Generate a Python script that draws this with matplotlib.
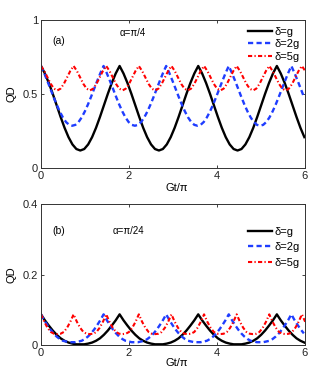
import matplotlib
matplotlib.use("Agg")
import matplotlib.pyplot as plt
import numpy as np

plt.rcParams["font.family"] = ["Liberation Sans", "DejaVu Sans"]

x_ticks = [0, 2, 4, 6]
labels = ["δ=g", "δ=2g", "δ=5g"]

# spacing (in Gt/pi) of the points
dx_g = 0.0895
dx_2g = 0.07125
dx_5g = 0.07425

# panel (a), alpha = pi/4
qd_a_g = [
    0.690, 0.639, 0.575, 0.502, 0.424, 0.346, 0.273, 0.210, 0.161, 0.130,
    0.120, 0.130, 0.161, 0.210, 0.273, 0.346, 0.424, 0.502, 0.575, 0.639,
    0.690, 0.639, 0.575, 0.502, 0.424, 0.346, 0.273, 0.210, 0.161, 0.130,
    0.120, 0.130, 0.161, 0.210, 0.273, 0.346, 0.424, 0.502, 0.575, 0.639,
    0.690, 0.639, 0.575, 0.502, 0.424, 0.346, 0.273, 0.210, 0.161, 0.130,
    0.120, 0.130, 0.161, 0.210, 0.273, 0.346, 0.424, 0.502, 0.575, 0.639,
    0.690, 0.639, 0.575, 0.502, 0.424, 0.346, 0.273, 0.210,
]
qd_a_2g = [
    0.690, 0.643, 0.591, 0.537, 0.482, 0.430, 0.383, 0.343, 0.312, 0.293,
    0.287, 0.293, 0.312, 0.343, 0.383, 0.430, 0.482, 0.537, 0.591, 0.643,
    0.690, 0.643, 0.591, 0.537, 0.482, 0.430, 0.383, 0.343, 0.312, 0.293,
    0.287, 0.293, 0.312, 0.343, 0.383, 0.430, 0.482, 0.537, 0.591, 0.643,
    0.690, 0.643, 0.591, 0.537, 0.482, 0.430, 0.383, 0.343, 0.312, 0.293,
    0.287, 0.293, 0.312, 0.343, 0.383, 0.430, 0.482, 0.537, 0.591, 0.643,
    0.690, 0.643, 0.591, 0.537, 0.482, 0.430, 0.383, 0.343, 0.312, 0.293,
    0.287, 0.293, 0.312, 0.343, 0.383, 0.430, 0.482, 0.537, 0.591, 0.643,
    0.690, 0.643, 0.591, 0.537, 0.482,
]
qd_a_5g = [
    0.690, 0.657, 0.613, 0.569, 0.537, 0.525, 0.537, 0.569, 0.613, 0.657,
    0.690, 0.657, 0.613, 0.569, 0.537, 0.525, 0.537, 0.569, 0.613, 0.657,
    0.690, 0.657, 0.613, 0.569, 0.537, 0.525, 0.537, 0.569, 0.613, 0.657,
    0.690, 0.657, 0.613, 0.569, 0.537, 0.525, 0.537, 0.569, 0.613, 0.657,
    0.690, 0.657, 0.613, 0.569, 0.537, 0.525, 0.537, 0.569, 0.613, 0.657,
    0.690, 0.657, 0.613, 0.569, 0.537, 0.525, 0.537, 0.569, 0.613, 0.657,
    0.690, 0.657, 0.613, 0.569, 0.537, 0.525, 0.537, 0.569, 0.613, 0.657,
    0.690, 0.657, 0.613, 0.569, 0.537, 0.525, 0.537, 0.569, 0.613, 0.657,
    0.690, 0.657,
]

# panel (b), alpha = pi/24
qd_b_g = [
    0.087, 0.070, 0.055, 0.041, 0.029, 0.019, 0.012, 0.007, 0.004, 0.002,
    0.002, 0.002, 0.004, 0.007, 0.012, 0.019, 0.029, 0.041, 0.055, 0.070,
    0.087, 0.070, 0.055, 0.041, 0.029, 0.019, 0.012, 0.007, 0.004, 0.002,
    0.002, 0.002, 0.004, 0.007, 0.012, 0.019, 0.029, 0.041, 0.055, 0.070,
    0.087, 0.070, 0.055, 0.041, 0.029, 0.019, 0.012, 0.007, 0.004, 0.002,
    0.002, 0.002, 0.004, 0.007, 0.012, 0.019, 0.029, 0.041, 0.055, 0.070,
    0.087, 0.070, 0.055, 0.041, 0.029, 0.019, 0.012, 0.007,
]
qd_b_2g = [
    0.087, 0.071, 0.057, 0.044, 0.033, 0.024, 0.017, 0.012, 0.010, 0.008,
    0.008, 0.008, 0.010, 0.012, 0.017, 0.024, 0.033, 0.044, 0.057, 0.071,
    0.087, 0.071, 0.057, 0.044, 0.033, 0.024, 0.017, 0.012, 0.010, 0.008,
    0.008, 0.008, 0.010, 0.012, 0.017, 0.024, 0.033, 0.044, 0.057, 0.071,
    0.087, 0.071, 0.057, 0.044, 0.033, 0.024, 0.017, 0.012, 0.010, 0.008,
    0.008, 0.008, 0.010, 0.012, 0.017, 0.024, 0.033, 0.044, 0.057, 0.071,
    0.087, 0.071, 0.057, 0.044, 0.033, 0.024, 0.017, 0.012, 0.010, 0.008,
    0.008, 0.008, 0.010, 0.012, 0.017, 0.024, 0.033, 0.044, 0.057, 0.071,
    0.087, 0.071, 0.057, 0.044, 0.033,
]
qd_b_5g = [
    0.087, 0.066, 0.049, 0.037, 0.032, 0.031, 0.032, 0.037, 0.049, 0.066,
    0.087, 0.066, 0.049, 0.037, 0.032, 0.031, 0.032, 0.037, 0.049, 0.066,
    0.087, 0.066, 0.049, 0.037, 0.032, 0.031, 0.032, 0.037, 0.049, 0.066,
    0.087, 0.066, 0.049, 0.037, 0.032, 0.031, 0.032, 0.037, 0.049, 0.066,
    0.087, 0.066, 0.049, 0.037, 0.032, 0.031, 0.032, 0.037, 0.049, 0.066,
    0.087, 0.066, 0.049, 0.037, 0.032, 0.031, 0.032, 0.037, 0.049, 0.066,
    0.087, 0.066, 0.049, 0.037, 0.032, 0.031, 0.032, 0.037, 0.049, 0.066,
    0.087, 0.066, 0.049, 0.037, 0.032, 0.031, 0.032, 0.037, 0.049, 0.066,
    0.087, 0.066,
]


def draw_panel(ax, curves, ylim, yticks, yticklabels, tag, alpha_text,
               tag_y, leg_top, leg_spacing):
    steps = [dx_g, dx_2g, dx_5g]
    styles = [
        dict(color="black", lw=1.7, ls="-"),
        dict(color="#1f3dff", lw=1.7, ls=(0, (2.2, 1.4))),
        dict(color="#ff0000", lw=1.5, ls=(0, (2.0, 1.1, 0.6, 1.1))),
    ]
    for qd, dx, st, lab in zip(curves, steps, styles, labels):
        x = np.arange(len(qd)) * dx
        ax.plot(x, qd, label=lab, **st)

    ax.set_xlim(0, 6)
    ax.set_ylim(*ylim)
    ax.set_xticks(x_ticks)
    ax.set_xticklabels([str(t) for t in x_ticks])
    ax.set_yticks(yticks)
    ax.set_yticklabels(yticklabels)
    ax.tick_params(direction="in", length=2.5, width=0.6, top=True,
                   right=True, labelsize=8, pad=2, colors="#222222")
    for sp in ax.spines.values():
        sp.set_linewidth(0.7)
        sp.set_color("#333333")

    ax.set_xlabel("Gt/π", fontsize=8)
    ax.xaxis.set_label_coords(0.515, -0.13)
    ax.xaxis.label.set_va("center")
    ax.set_ylabel("QD", fontsize=8)
    ax.yaxis.set_label_coords(-0.112, 0.5)
    ax.yaxis.label.set_va("center")

    ax.text(0.042, tag_y, tag, transform=ax.transAxes, fontsize=7.5,
            va="center", ha="left")
    ax.text(alpha_text[1], alpha_text[2], alpha_text[0],
            transform=ax.transAxes, fontsize=7, va="center", ha="left")

    ax.legend(loc="upper right", bbox_to_anchor=(0.98, leg_top),
              frameon=False, fontsize=8, handlelength=2.1,
              handletextpad=0.2, labelspacing=leg_spacing,
              borderaxespad=0, borderpad=0)


fig = plt.figure(figsize=(3.16, 3.76), dpi=100)
ax_a = fig.add_axes([0.1297, 0.5524, 0.834, 0.3944])
ax_b = fig.add_axes([0.1297, 0.0824, 0.834, 0.375])

draw_panel(ax_a, [qd_a_g, qd_a_2g, qd_a_5g], (0, 1), [0, 0.5, 1],
           ["0", "0.5", "1"], "(a)", ("α=π/4", 0.30, 0.91),
           0.86, 0.955, 0.22)
draw_panel(ax_b, [qd_b_g, qd_b_2g, qd_b_5g], (0, 0.4), [0, 0.2, 0.4],
           ["0", "0.2", "0.4"], "(b)", ("α=π/24", 0.27, 0.81),
           0.81, 0.84, 0.5)

fig.savefig("out.png", dpi=100)
